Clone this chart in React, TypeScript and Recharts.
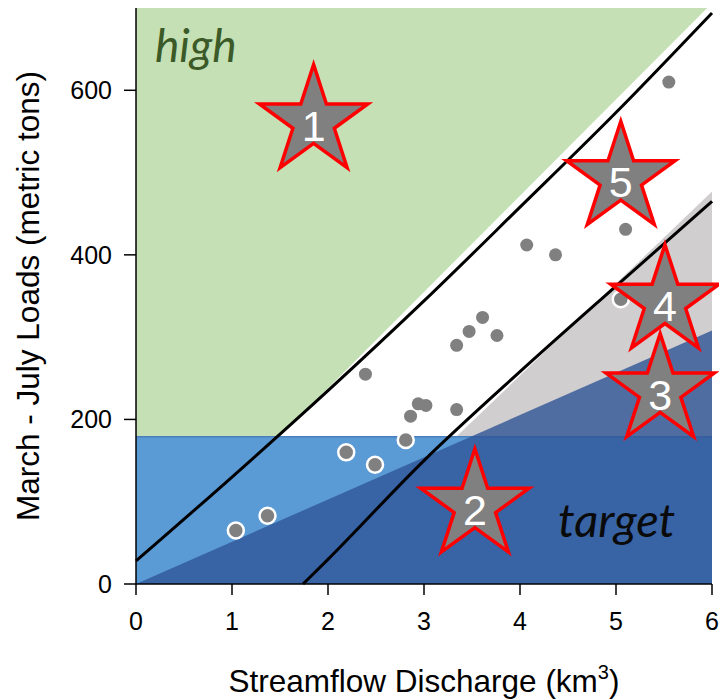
import React from 'react';
import { ComposedChart, XAxis, YAxis, Area, Line, Scatter } from 'recharts';

// axis ticks
const xTicks = [0, 1, 2, 3, 4, 5, 6];
const yTicks = [0, 200, 400, 600];

// shaded zones
const highZoneX = [0, 5.95];
const highZoneLow = [4, 700];
const highZoneTop = 700;
const grayZoneX = [1.735, 6];
const grayZoneY = [0, 477];
const targetBoxX = [0, 6];
const targetBoxTop = 179;
const darkZoneX = [0, 6];
const darkZoneY = [0, 308];

// reference curves
const upperLineX = [0, 1, 2, 3, 4, 5, 6];
const upperLineY = [28, 130, 235, 344, 458, 573, 694];
const lowerLineX = [1.74, 2, 3, 4, 5, 6];
const lowerLineY = [0, 30, 150, 258, 362, 465];

// observed years (plain dots)
const dotX = [2.39, 3.34, 3.47, 3.61, 3.76, 4.07, 4.37, 5.10, 5.55, 3.02, 2.94, 2.86, 3.34];
const dotY = [255, 290, 307, 324, 302, 412, 400, 431, 610, 217, 219, 204, 212];
// observed years meeting target (ringed dots)
const ringX = [1.04, 1.37, 2.19, 2.49, 2.81, 5.05];
const ringY = [65, 83, 160, 145, 175, 346];

// scenario stars
const starX = [1.85, 3.53, 5.46, 5.51, 5.05];
const starY = [562, 95, 235, 343, 493];
const starLabels = ['1', '2', '3', '4', '5'];

const highData = highZoneX.map((x, i) => ({ x, v: [highZoneLow[i], highZoneTop] }));
const grayData = grayZoneX.map((x, i) => ({ x, v: grayZoneY[i] }));
const boxData = targetBoxX.map((x) => ({ x, v: targetBoxTop }));
const darkData = darkZoneX.map((x, i) => ({ x, v: darkZoneY[i] }));
const upperData = upperLineX.map((x, i) => ({ x, y: upperLineY[i] }));
const lowerData = lowerLineX.map((x, i) => ({ x, y: lowerLineY[i] }));
const dotData = dotX.map((x, i) => ({ x, y: dotY[i] }));
const ringData = ringX.map((x, i) => ({ x, y: ringY[i] }));
const starData = starX.map((x, i) => ({ x, y: starY[i], label: starLabels[i] }));

const starPath = (cx: number, cy: number, R: number) => {
  const r = R * 0.382;
  let d = '';
  for (let i = 0; i < 10; i++) {
    const a = -Math.PI / 2 + (i * Math.PI) / 5;
    const rad = i % 2 === 0 ? R : r;
    d += (i ? 'L' : 'M') + (cx + rad * Math.cos(a)).toFixed(2) + ',' + (cy + rad * Math.sin(a)).toFixed(2);
  }
  return d + 'Z';
};

const StarShape = (props: any) => {
  const { cx, cy, payload } = props;
  return (
    <g>
      <path d={starPath(cx, cy, 57)} fill="#808080" stroke="#ff0000" strokeWidth={3.5} strokeLinejoin="miter" />
      <text x={cx} y={cy + 4} textAnchor="middle" dominantBaseline="central" fill="#ffffff"
        fontFamily="'Liberation Sans', Arial, sans-serif" fontSize={43}>{payload.label}</text>
    </g>
  );
};

const DotShape = (props: any) => <circle cx={props.cx} cy={props.cy} r={6.5} fill="#808080" />;
const RingShape = (props: any) => (
  <circle cx={props.cx} cy={props.cy} r={8} fill="#808080" stroke="#ffffff" strokeWidth={2.5} />
);

const FONT = "'Liberation Sans', Arial, sans-serif";

const YTitle = (props: any) => {
  const vb = props.viewBox || { x: 0, y: 0, width: 0, height: 0 };
  const cx = vb.x + 19.5;
  const cy = vb.y + vb.height / 2;
  return (
    <text x={cx} y={cy} transform={`rotate(-90, ${cx}, ${cy})`} textAnchor="middle" dominantBaseline="central"
      fontFamily={FONT} fontSize={31.5} fill="#000">
      March - July Loads (metric tons)
    </text>
  );
};

const XTitle = (props: any) => {
  const vb = props.viewBox || { x: 0, y: 0, width: 0, height: 0 };
  const cx = vb.x + vb.width / 2;
  return (
    <text x={cx} y={vb.y + 108} textAnchor="middle" fontFamily={FONT} fontSize={31.5} fill="#000">
      Streamflow Discharge (km<tspan dy={-13} fontSize={20}>3</tspan><tspan dy={13}>)</tspan>
    </text>
  );
};

const tickStyle = { fontFamily: FONT, fontSize: 25, fill: '#000' };
const axisStroke = { stroke: '#000', strokeWidth: 1.5 };
const frameStroke = { stroke: '#222', strokeWidth: 1.5 };

export default function App() {
  return (
    <div style={{ width: 719, height: 699, boxSizing: 'border-box', paddingLeft: 8, paddingTop: 8 }}>
      <style>{`html,body{margin:0;padding:0} .recharts-surface{overflow:visible}`}</style>
      <div style={{ position: 'relative', width: 711, height: 691 }}>
        <ComposedChart width={711} height={691} margin={{ top: 0, right: 7, bottom: 55, left: 0 }}>
          <XAxis dataKey="x" type="number" domain={[0, 6]} ticks={xTicks}
            height={60} tickSize={11} tickMargin={17} tick={tickStyle}
            axisLine={axisStroke} tickLine={axisStroke}
            label={(p: any) => <XTitle {...p} />} />
          <XAxis xAxisId="top" orientation="top" dataKey="x" type="number" domain={[0, 6]} height={0}
            tick={false} tickLine={false} axisLine={frameStroke} />
          <YAxis type="number" domain={[0, 700]} ticks={yTicks} width={128} tickSize={12} tickMargin={12}
            tick={tickStyle} axisLine={axisStroke} tickLine={axisStroke}
            label={(p: any) => <YTitle {...p} />} />
          <YAxis yAxisId="right" orientation="right" type="number" domain={[0, 700]} width={0}
            tick={false} tickLine={false} axisLine={frameStroke} />
          <Area data={highData} dataKey="v" type="linear" fill="#c5e0b4" fillOpacity={1} stroke="none"
            dot={false} activeDot={false} isAnimationActive={false} />
          <Area data={grayData} dataKey="v" type="linear" fill="#d0cece" fillOpacity={1} stroke="none"
            dot={false} activeDot={false} isAnimationActive={false} />
          <Area data={boxData} dataKey="v" type="linear" fill="#5b9bd5" fillOpacity={1} stroke="#4a7fbd" strokeWidth={1.5}
            dot={false} activeDot={false} isAnimationActive={false} />
          <Area data={darkData} dataKey="v" type="linear" fill="#2f5597" fillOpacity={0.8} stroke="none"
            dot={false} activeDot={false} isAnimationActive={false} />
          <Line data={upperData} dataKey="y" type="monotone" stroke="#000" strokeWidth={3} dot={false}
            activeDot={false} isAnimationActive={false} />
          <Line data={lowerData} dataKey="y" type="monotone" stroke="#000" strokeWidth={3} dot={false}
            activeDot={false} isAnimationActive={false} />
          <Scatter data={dotData} dataKey="y" shape={DotShape} isAnimationActive={false} />
          <Scatter data={ringData} dataKey="y" shape={RingShape} isAnimationActive={false} />
          <Scatter data={starData} dataKey="y" shape={StarShape} isAnimationActive={false} />
        </ComposedChart>
        <svg width={711} height={691} style={{ position: 'absolute', left: 0, top: 0, pointerEvents: 'none', overflow: 'visible' }}>
          <text x={147} y={53.7} fontFamily="Lato, 'Open Sans', sans-serif" fontStyle="italic" fontSize={46} fill="#3b5a27">high</text>
          <text x={550} y={528.7} fontFamily="Lato, 'Open Sans', sans-serif" fontStyle="italic" fontSize={47} fill="#0a0a0a">target</text>
        </svg>
      </div>
    </div>
  );
}
